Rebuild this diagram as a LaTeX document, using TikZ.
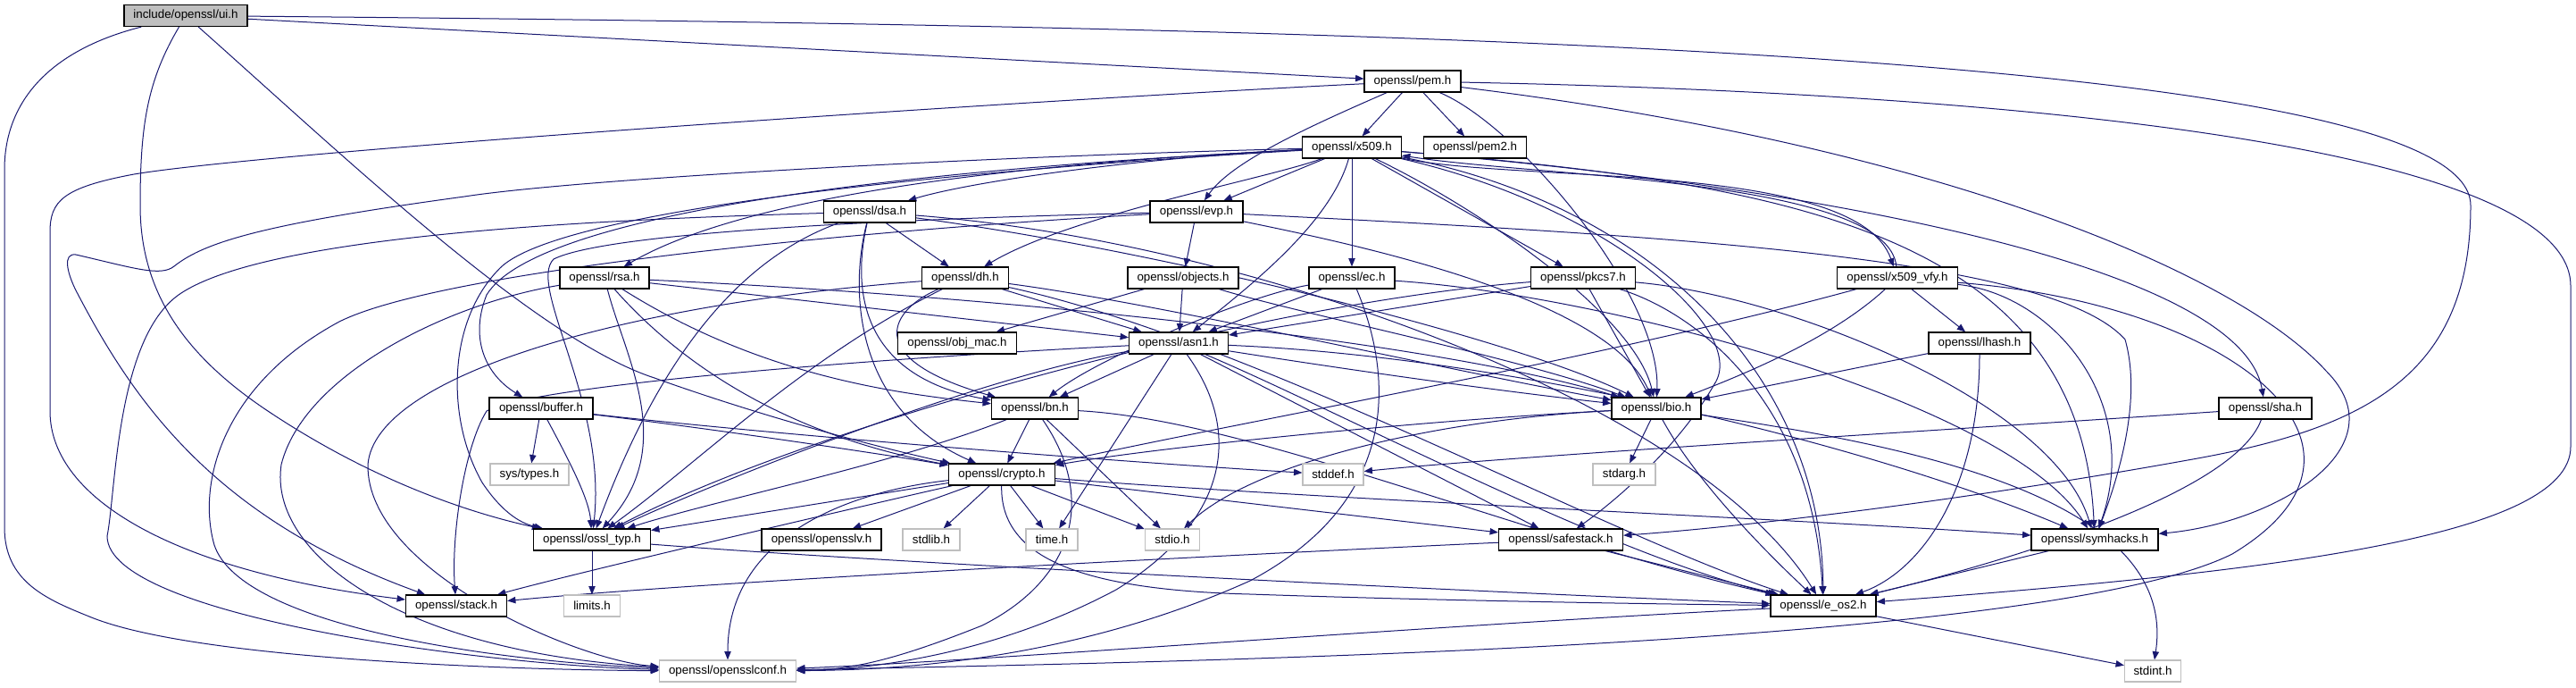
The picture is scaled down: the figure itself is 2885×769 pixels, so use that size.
\documentclass[tikz,border=0pt]{standalone}
\usepackage{fontspec}
\setmainfont{Liberation Sans}
\usetikzlibrary{arrows.meta,backgrounds}
\definecolor{edgec}{HTML}{191970}
\definecolor{gseventyfive}{HTML}{BFBFBF}
\begin{document}
\begin{tikzpicture}[x=0.75pt,y=-0.75pt,
  hdr/.style={draw=black,line width=0.9pt,fill=white,minimum height=18pt,inner xsep=0pt,inner ysep=0pt,font=\fontsize{10pt}{12pt}\selectfont},
  sys/.style={hdr,draw=gseventyfive},
  root/.style={hdr,fill=gseventyfive},
  e/.style={draw=edgec,line width=0.75pt,-{Triangle[length=7pt,width=5.5pt]}}]
\useasboundingbox (0,0) rectangle (2885,769);
% nodes
\node[root,minimum width=103.5pt] (ui) at (208,17.5) {include/openssl/ui.h};
\node[hdr,minimum width=81pt] (pem) at (1582,91) {openssl/pem.h};
\node[hdr,minimum width=83.25pt] (x509) at (1514,165) {openssl/x509.h};
\node[hdr,minimum width=86.25pt] (pem2) at (1652,165) {openssl/pem2.h};
\node[hdr,minimum width=77.25pt] (dsa) at (974,237) {openssl/dsa.h};
\node[hdr,minimum width=78pt] (evp) at (1340,237) {openssl/evp.h};
\node[hdr,minimum width=75pt] (rsa) at (677,311) {openssl/rsa.h};
\node[hdr,minimum width=72.75pt] (dh) at (1081,311) {openssl/dh.h};
\node[hdr,minimum width=93pt] (objects) at (1325,311) {openssl/objects.h};
\node[hdr,minimum width=72pt] (ec) at (1514,311) {openssl/ec.h};
\node[hdr,minimum width=87.75pt] (pkcs7) at (1773,311) {openssl/pkcs7.h};
\node[hdr,minimum width=101.25pt] (vfy) at (2125,311) {openssl/x509\_vfy.h};
\node[hdr,minimum width=99.75pt] (objmac) at (1072,384) {openssl/obj\_mac.h};
\node[hdr,minimum width=83.25pt] (asn1) at (1320,384) {openssl/asn1.h};
\node[hdr,minimum width=85.5pt] (lhash) at (2217,384) {openssl/lhash.h};
\node[hdr,minimum width=87pt] (buffer) at (606,457) {openssl/buffer.h};
\node[hdr,minimum width=72.75pt] (bn) at (1159,457) {openssl/bn.h};
\node[hdr,minimum width=75pt] (bio) at (1855,457) {openssl/bio.h};
\node[hdr,minimum width=78pt] (sha) at (2537,457) {openssl/sha.h};
\node[sys,minimum width=66pt] (systypes) at (593,531) {sys/types.h};
\node[hdr,minimum width=89.25pt] (crypto) at (1122,531) {openssl/crypto.h};
\node[sys,minimum width=51pt] (stddef) at (1493,531) {stddef.h};
\node[sys,minimum width=52.5pt] (stdarg) at (1819,531) {stdarg.h};
\node[hdr,minimum width=98.25pt] (ossltyp) at (663,604) {openssl/ossl\_typ.h};
\node[hdr,minimum width=100.5pt] (opensslv) at (920,604) {openssl/opensslv.h};
\node[sys,minimum width=48pt] (stdlib) at (1043,604) {stdlib.h};
\node[sys,minimum width=43.5pt] (time) at (1178,604) {time.h};
\node[sys,minimum width=45.75pt] (stdio) at (1313,604) {stdio.h};
\node[hdr,minimum width=104.25pt] (safestack) at (1748,604) {openssl/safestack.h};
\node[hdr,minimum width=106.5pt] (symhacks) at (2346,604) {openssl/symhacks.h};
\node[hdr,minimum width=84.75pt] (stack) at (511,678) {openssl/stack.h};
\node[sys,minimum width=47.25pt] (limits) at (663,678) {limits.h};
\node[hdr,minimum width=88.5pt] (eos2) at (2042,678) {openssl/e\_os2.h};
\node[sys,minimum width=114.75pt] (conf) at (815,751) {openssl/opensslconf.h};
\node[sys,minimum width=47.25pt] (stdint) at (2411,751) {stdint.h};
\begin{scope}[on background layer]
% ui.h
\draw[e] (ui) .. controls (60,55) and (5,110) .. (5,190) -- (5,590) .. controls (5,650) and (50,670) .. (100,690) .. controls (220,740) and (600,750) .. (conf);
\draw[e] (ui) .. controls (165,90) and (157,140) .. (157,230) .. controls (157,330) and (210,400) .. (300,460) .. controls (420,540) and (530,575) .. (ossltyp);
\draw[e] (ui) .. controls (380,170) and (600,380) .. (733,423) .. controls (850,465) and (980,500) .. (crypto);
\draw[e] (ui) -- (pem);
\draw[e] (ui) .. controls (1600,30) and (2767,60) .. (2767,230) .. controls (2767,420) and (2650,480) .. (2450,515) .. controls (2200,560) and (1950,590) .. (safestack);
% pem.h
\draw[e] (pem) -- (x509);
\draw[e] (pem) -- (pem2);
\draw[e] (pem) .. controls (1470,140) and (1380,180) .. (evp);
\draw[e] (pem) .. controls (1700,140) and (1860,330) .. (bio);
\draw[e] (pem) .. controls (1100,115) and (300,170) .. (150,195) .. controls (70,210) and (56,225) .. (56,260) -- (56,460) .. controls (56,560) and (200,640) .. (stack);
\draw[e] (pem) .. controls (2300,105) and (2879,170) .. (2879,320) -- (2879,500) .. controls (2879,600) and (2550,640) .. (eos2);
\draw[e] (pem) .. controls (2150,160) and (2500,300) .. (2605,415) .. controls (2690,500) and (2550,585) .. (symhacks);
% x509.h
\draw[e] (x509) -- (ec);
\draw[e] (x509) -- (pkcs7);
\draw[e] (x509) -- (evp);
\draw[e] (x509) .. controls (1300,175) and (1100,200) .. (dsa);
\draw[e] (x509) .. controls (1420,200) and (1200,240) .. (dh);
\draw[e] (x509) .. controls (1200,180) and (850,210) .. (rsa);
\draw[e] (x509) .. controls (1490,250) and (1400,320) .. (asn1);
\draw[e] (x509) .. controls (1650,230) and (1830,350) .. (bio);
\draw[e] (x509) .. controls (1700,205) and (2080,180) .. (vfy);
\draw[e] (vfy) .. controls (2115,200) and (1720,198) .. (x509);
\draw[e] (x509) .. controls (1100,175) and (650,200) .. (520,220) .. controls (300,250) and (230,270) .. (195,298) .. controls (180,310) and (150,300) .. (85,285) .. controls (70,283) and (75,305) .. (85,325) .. controls (150,450) and (240,580) .. (stack);
\draw[e] (x509) .. controls (1000,190) and (600,240) .. (545,330) .. controls (525,380) and (545,420) .. (buffer);
\draw[e] (x509) .. controls (1000,195) and (620,240) .. (560,300) .. controls (500,360) and (500,470) .. (540,540) .. controls (560,570) and (580,585) .. (ossltyp);
\draw[e] (x509) .. controls (1800,230) and (1960,370) .. (1920,430) .. controls (1880,500) and (1810,560) .. (safestack);
\draw[e] (x509) .. controls (1850,230) and (2040,420) .. (eos2);
\draw[e] (x509) .. controls (2000,205) and (2330,260) .. (symhacks);
\draw[e] (x509) .. controls (2050,210) and (2510,300) .. (sha);
% evp.h
\draw[e] (evp) -- (objects);
\draw[e] (evp) .. controls (1500,270) and (1800,330) .. (bio);
\draw[e] (evp) .. controls (1900,265) and (2300,290) .. (2380,380) .. controls (2400,450) and (2370,540) .. (symhacks);
\draw[e] (evp) .. controls (1000,245) and (680,260) .. (620,290) .. controls (590,320) and (680,450) .. (ossltyp);
\draw[e] (evp) .. controls (1000,255) and (500,300) .. (380,360) .. controls (250,430) and (220,540) .. (240,610) .. controls (270,700) and (550,740) .. (conf);
% objects.h
\draw[e] (objects) -- (objmac);
\draw[e] (objects) -- (asn1);
\draw[e] (objects) .. controls (1450,350) and (1700,400) .. (bio);
% dsa.h
\draw[e] (dsa) -- (dh);
\draw[e] (dsa) .. controls (955,320) and (960,420) .. (bn);
\draw[e] (dsa) .. controls (950,330) and (960,460) .. (crypto);
\draw[e] (dsa) .. controls (1300,280) and (1700,380) .. (bio);
\draw[e] (dsa) .. controls (1400,270) and (1900,450) .. (eos2);
\draw[e] (dsa) .. controls (800,300) and (720,450) .. (ossltyp);
\draw[e] (dsa) .. controls (700,245) and (300,260) .. (200,330) .. controls (130,380) and (130,550) .. (120,600) .. controls (120,690) and (550,745) .. (conf);
% rsa.h
\draw[e] (rsa) .. controls (500,340) and (340,420) .. (315,520) .. controls (300,620) and (450,730) .. (conf);
\draw[e] (rsa) .. controls (700,400) and (760,500) .. (ossltyp);
\draw[e] (rsa) .. controls (800,450) and (950,500) .. (crypto);
\draw[e] (rsa) .. controls (850,420) and (1000,440) .. (bn);
\draw[e] (rsa) -- (asn1);
\draw[e] (rsa) .. controls (1100,330) and (1600,380) .. (bio);
% dh.h
\draw[e] (dh) -- (asn1);
\draw[e] (dh) .. controls (1000,345) and (960,400) .. (bn);
\draw[e] (dh) .. controls (900,400) and (780,520) .. (ossltyp);
\draw[e] (dh) .. controls (1300,340) and (1600,410) .. (bio);
\draw[e] (dh) .. controls (1400,380) and (1800,600) .. (eos2);
\draw[e] (dh) .. controls (700,340) and (420,420) .. (412,520) .. controls (410,640) and (650,740) .. (conf);
% asn1.h
\draw[e] (asn1) -- (bn);
\draw[e] (asn1) -- (time);
\draw[e] (asn1) .. controls (1390,480) and (1380,580) .. (1250,660) .. controls (1100,740) and (950,750) .. (conf);
\draw[e] (asn1) -- (safestack);
\draw[e] (asn1) .. controls (1500,460) and (1800,620) .. (eos2);
\draw[e] (asn1) .. controls (1550,420) and (1700,440) .. (bio);
\draw[e] (asn1) .. controls (1700,400) and (2100,500) .. (symhacks);
\draw[e] (asn1) .. controls (1100,420) and (800,540) .. (ossltyp);
\draw[e] (asn1) .. controls (1000,400) and (600,430) .. (545,460) .. controls (520,500) and (505,600) .. (stack);
% bn.h
\draw[e] (bn) -- (crypto);
\draw[e] (bn) -- (stdio);
\draw[e] (bn) .. controls (1000,520) and (800,560) .. (ossltyp);
\draw[e] (bn) .. controls (1230,560) and (1200,650) .. (1100,700) .. controls (1000,740) and (950,750) .. (conf);
\draw[e] (bn) .. controls (1400,470) and (1700,600) .. (eos2);
% crypto.h
\draw[e] (crypto) -- (stdlib);
\draw[e] (crypto) -- (time);
\draw[e] (crypto) -- (stdio);
\draw[e] (crypto) -- (ossltyp);
\draw[e] (crypto) -- (opensslv);
\draw[e] (crypto) .. controls (950,570) and (650,640) .. (stack);
\draw[e] (crypto) .. controls (950,550) and (815,600) .. (conf);
\draw[e] (crypto) -- (safestack);
\draw[e] (crypto) .. controls (1500,560) and (2000,580) .. (symhacks);
\draw[e] (crypto) .. controls (1120,620) and (1200,660) .. (1400,665) .. controls (1600,672) and (1850,676) .. (eos2);
% bio.h
\draw[e] (bio) -- (stdarg);
\draw[e] (bio) .. controls (1600,470) and (1300,500) .. (crypto);
\draw[e] (bio) .. controls (1600,470) and (1400,520) .. (stdio);
\draw[e] (bio) .. controls (1900,540) and (1980,620) .. (eos2);
\draw[e] (bio) .. controls (2150,500) and (2440,560) .. (stdint);
% lower headers
\draw[e] (safestack) .. controls (1400,620) and (800,650) .. (stack);
\draw[e] (safestack) -- (eos2);
\draw[e] (symhacks) -- (eos2);
\draw[e] (ossltyp) -- (limits);
\draw[e] (ossltyp) .. controls (1000,630) and (1600,660) .. (eos2);
\draw[e] (eos2) .. controls (1600,700) and (1100,740) .. (conf);
\draw[e] (eos2) -- (stdint);
% buffer.h
\draw[e] (buffer) -- (systypes);
\draw[e] (buffer) .. controls (640,520) and (660,560) .. (ossltyp);
\draw[e] (buffer) .. controls (800,480) and (1000,510) .. (crypto);
\draw[e] (buffer) .. controls (900,490) and (1300,520) .. (stddef);
% ec.h
\draw[e] (ec) -- (asn1);
\draw[e] (ec) .. controls (1560,420) and (1570,560) .. (1400,650) .. controls (1200,740) and (1000,750) .. (conf);
\draw[e] (ec) .. controls (1800,330) and (2250,450) .. (symhacks);
\draw[e] (ec) .. controls (1400,330) and (1230,400) .. (bn);
% pkcs7.h
\draw[e] (pkcs7) -- (asn1);
\draw[e] (pkcs7) -- (bio);
\draw[e] (pkcs7) .. controls (1900,350) and (2030,450) .. (eos2);
\draw[e] (pkcs7) .. controls (2000,330) and (2300,450) .. (symhacks);
\draw[e] (pkcs7) .. controls (1400,340) and (900,480) .. (ossltyp);
% x509_vfy.h
\draw[e] (vfy) -- (lhash);
\draw[e] (vfy) .. controls (2050,380) and (1950,420) .. (bio);
\draw[e] (vfy) .. controls (1800,400) and (1400,470) .. (crypto);
\draw[e] (vfy) .. controls (2300,330) and (2400,450) .. (symhacks);
\draw[e] (vfy) .. controls (2500,340) and (2700,500) .. (2500,620) .. controls (2300,720) and (1400,740) .. (conf);
% lhash.h, sha.h
\draw[e] (lhash) -- (bio);
\draw[e] (lhash) .. controls (2217,550) and (2150,640) .. (eos2);
\draw[e] (sha) .. controls (2500,560) and (2200,640) .. (eos2);
\draw[e] (sha) .. controls (2200,480) and (1700,510) .. (stddef);
\end{scope}
\end{tikzpicture}
\end{document}
